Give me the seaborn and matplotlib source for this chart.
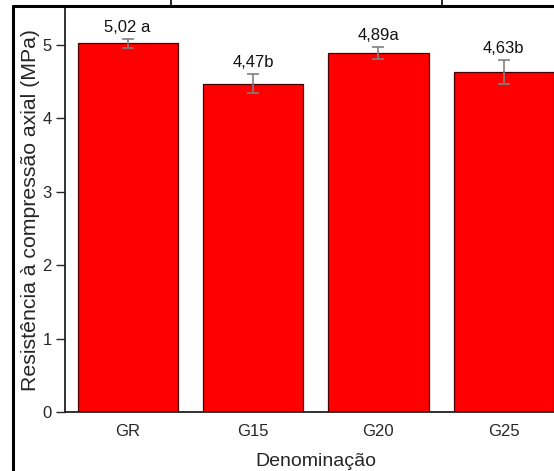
import matplotlib
matplotlib.use("Agg")
import matplotlib.pyplot as plt
from matplotlib.lines import Line2D
import seaborn as sns
import pandas as pd

# valores
grupos = ["GR", "G15", "G20", "G25"]
resistencia = [5.02, 4.47, 4.89, 4.63]
desvio = [0.06, 0.13, 0.08, 0.16]
rotulos = ["5,02 a", "4,47b", "4,89a", "4,63b"]

df = pd.DataFrame({"Denominação": grupos, "Resistencia": resistencia})

sns.set_theme(style="white")
plt.rcParams["font.family"] = ["Liberation Sans", "DejaVu Sans"]

W, H = 554, 471
fig = plt.figure(figsize=(W / 100, H / 100), dpi=100)
ax = fig.add_axes([65 / W, (H - 412) / H, (566.5 - 65) / W, (412 - 8) / H])

sns.barplot(data=df, x="Denominação", y="Resistencia", color="#ff0000",
            saturation=1, width=0.8, edgecolor="#4a0000", linewidth=0.9,
            errorbar=None, ax=ax)

xs = [p.get_x() + p.get_width() / 2 for p in ax.patches]
ax.errorbar(xs, resistencia, yerr=desvio, fmt="none", ecolor="#808080",
            elinewidth=1.2, capsize=4, capthick=1.2)

for x, v, e, t in zip(xs, resistencia, desvio, rotulos):
    ax.annotate(t, (x, v + e), xytext=(0, 3), textcoords="offset points",
                ha="center", va="bottom", fontsize=12, color="#111111")

ax.set_xlim(-0.5, 3.5)
ax.set_ylim(0, 5.5)
ax.set_yticks([0, 1, 2, 3, 4, 5])
ax.set_ylabel("Resistência à compressão axial (MPa)", fontsize=15.3, labelpad=2)
ax.set_xlabel("Denominação", fontsize=14, labelpad=10)
ax.tick_params(axis="y", length=6.5, width=1, labelsize=12, pad=3, left=True)
ax.tick_params(axis="x", length=0, labelsize=12, pad=9)
for s in ["top", "right"]:
    ax.spines[s].set_visible(False)
for s in ["left", "bottom"]:
    ax.spines[s].set_color("#222222")
    ax.spines[s].set_linewidth(1.3)

# moldura da tabela do documento
def px_line(x0, y0, x1, y1, lw):
    fig.add_artist(Line2D([x0 / W, x1 / W], [1 - y0 / H, 1 - y1 / H],
                          color="black", linewidth=lw, transform=fig.transFigure))

px_line(13, 6, W, 6, 2.2)
px_line(13, 6, 13, H, 2.2)
px_line(171, 0, 171, 6, 1.2)
px_line(442, 0, 442, 6, 1.2)

fig.savefig("out.png", dpi=100)
